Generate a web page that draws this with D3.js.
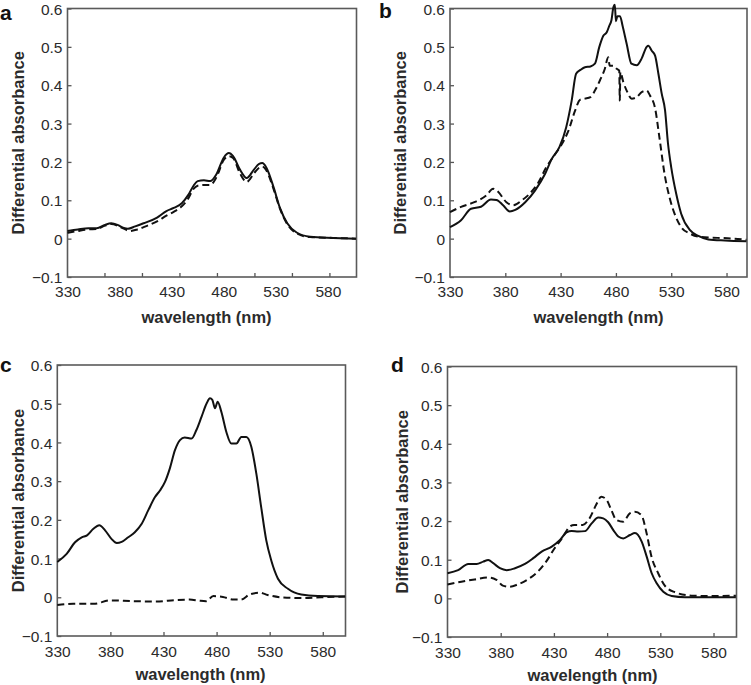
<!DOCTYPE html>
<html>
<head>
<meta charset="utf-8">
<script src="https://cdn.jsdelivr.net/npm/d3@7"></script>
<style>
  html, body { margin: 0; padding: 0; background: #fff; }
  svg { display: block; }
</style>
</head>
<body>
<svg id="chart" width="751" height="685"></svg>
<script>
// ---------------- data (wavelength nm, differential absorbance) ----------------
const xTickLabels = [330, 380, 430, 480, 530, 580];
const yTickLabels = [-0.1, 0, 0.1, 0.2, 0.3, 0.4, 0.5, 0.6];
const panelATickMarks = [365.5, 401.5, 437.5, 473.5, 509.5, 545.5, 581.5];
const standardTickMarks = [380, 430, 480, 530, 580];

const panelASolid = [[330,0.020],[340,0.024],[350,0.027],[358,0.027],[366,0.036],[372,0.040],[378,0.036],[384,0.028],[388,0.026],[395,0.032],[403,0.040],[416,0.055],[425,0.072],[432,0.080],[440,0.093],[446,0.114],[451,0.138],[455,0.150],[461,0.152],[467,0.150],[473,0.168],[480,0.211],[485,0.223],[489,0.215],[496,0.178],[502,0.158],[509,0.180],[514,0.195],[517,0.197],[521,0.185],[528,0.133],[534,0.080],[541,0.040],[550,0.016],[563,0.005],[585,0.002],[607,0.000]];
const panelADashed = [[330,0.015],[340,0.020],[350,0.024],[358,0.025],[366,0.034],[372,0.038],[378,0.034],[384,0.026],[390,0.020],[397,0.024],[405,0.032],[416,0.045],[425,0.060],[432,0.070],[440,0.085],[446,0.105],[451,0.130],[455,0.138],[461,0.140],[467,0.140],[473,0.160],[480,0.205],[485,0.215],[489,0.210],[496,0.168],[502,0.148],[509,0.170],[514,0.185],[517,0.188],[521,0.178],[528,0.128],[534,0.078],[541,0.038],[550,0.014],[563,0.004],[585,0.002],[607,0.000]];

const panelBSolid = [[330,0.030],[340,0.048],[349,0.078],[358,0.083],[367,0.102],[372,0.101],[378,0.087],[384,0.071],[389,0.075],[398,0.095],[407,0.126],[416,0.169],[422,0.208],[429,0.239],[435,0.290],[440,0.360],[444,0.430],[448,0.440],[452,0.447],[457,0.449],[461,0.456],[465,0.500],[468.6,0.529],[471.7,0.538],[474,0.555],[476,0.570],[477.7,0.603],[479,0.610],[480,0.567],[481.3,0.580],[483.7,0.580],[486,0.555],[489.7,0.508],[494,0.456],[498.8,0.452],[503.3,0.470],[507.8,0.500],[509.3,0.503],[512.4,0.490],[515.4,0.477],[518.4,0.430],[521.4,0.378],[524.4,0.335],[527,0.250],[530,0.186],[534.5,0.117],[539,0.065],[547,0.022],[554.5,0.007],[563.5,-0.002],[578.6,-0.005],[598,-0.007]];
const panelBDashed = [[330,0.069],[340,0.083],[352,0.095],[363,0.113],[369,0.130],[373.5,0.122],[381,0.095],[387,0.087],[395,0.100],[402,0.117],[410,0.147],[417,0.186],[425,0.220],[431,0.246],[437,0.281],[443,0.333],[447.5,0.362],[452,0.365],[457,0.369],[461,0.386],[465.6,0.413],[470,0.443],[473,0.473],[474.4,0.451],[477.7,0.451],[480.7,0.443],[483,0.438],[483.5,0.360],[484,0.434],[486.7,0.408],[489.7,0.386],[494.3,0.365],[498.8,0.369],[503.3,0.382],[507.8,0.386],[510.8,0.373],[515.4,0.340],[519.5,0.260],[524,0.168],[528.5,0.107],[533,0.065],[539,0.030],[547,0.013],[557.5,0.004],[572,0.002],[587,0.000],[598,-0.003]];

const panelCSolid = [[330,0.091],[338.8,0.112],[346.7,0.142],[353,0.155],[358,0.160],[364,0.177],[369.5,0.186],[375,0.173],[381,0.151],[386,0.140],[390.6,0.143],[396.8,0.155],[403,0.168],[409.5,0.190],[415.7,0.225],[422,0.259],[426.7,0.276],[431.4,0.298],[436,0.333],[440.8,0.380],[445.5,0.406],[450,0.413],[456.5,0.410],[461,0.432],[465.8,0.466],[470.7,0.501],[473.8,0.514],[476,0.510],[478.5,0.488],[481,0.505],[484.5,0.479],[489.2,0.427],[493.9,0.397],[498.6,0.397],[503.3,0.414],[508,0.414],[512.7,0.389],[517.4,0.320],[522,0.233],[526.8,0.147],[531.5,0.095],[537.8,0.048],[547.2,0.022],[559.7,0.007],[575.4,0.003],[601,0.002]];
const panelCDashed = [[330,-0.020],[345,-0.017],[364,-0.017],[380,-0.008],[401,-0.010],[423,-0.011],[442,-0.007],[454.5,-0.006],[464,-0.009],[470,-0.010],[477,0.003],[486,0.001],[496,-0.006],[503,-0.006],[511,0.007],[520.5,0.012],[528,0.006],[540.6,0.000],[559.7,-0.002],[578.5,0.000],[601,0.002]];

const panelDSolid = [[330,0.065],[340,0.073],[349.5,0.089],[357.4,0.089],[363.6,0.095],[368.3,0.099],[373,0.091],[379.3,0.078],[385.6,0.073],[393.4,0.078],[402.8,0.089],[410.6,0.104],[418.5,0.121],[428,0.134],[435.7,0.151],[442,0.171],[446.7,0.174],[452.9,0.173],[459.2,0.174],[465.5,0.194],[471.7,0.209],[476.4,0.207],[481,0.197],[486,0.176],[490.5,0.160],[495.2,0.155],[501.5,0.164],[506.2,0.169],[512.5,0.147],[517.2,0.108],[521.9,0.065],[526.6,0.039],[532.8,0.017],[540.7,0.006],[553.2,0.003],[575,0.003],[601,0.003]];
const panelDDashed = [[330,0.036],[343,0.043],[355.5,0.049],[368.3,0.054],[376,0.048],[382,0.033],[388.3,0.030],[396,0.036],[405.5,0.049],[414.8,0.069],[422.7,0.095],[430.5,0.129],[438.3,0.158],[444.6,0.185],[449,0.190],[457,0.190],[463.5,0.207],[469.7,0.242],[474.4,0.263],[479.2,0.256],[483.9,0.229],[488.6,0.203],[495,0.198],[501.3,0.220],[506,0.224],[512.3,0.215],[517,0.170],[521.7,0.108],[528,0.065],[534.2,0.033],[543.6,0.016],[559.3,0.007],[575,0.006],[601,0.007]];

// ---------------- layout ----------------
const panels = [
  { letter: "a", box: [67.5, 8.5, 356.5, 277], xMax: 607.5, ticks: panelATickMarks, solid: panelASolid, dashed: panelADashed,
    letterPos: [0, 20], yTitleX: 18, xTitleX: 206.5, labelOff: 20, titleOff: 46 },
  { letter: "b", box: [450, 8.5, 747, 277], xMax: 598.5, ticks: standardTickMarks, solid: panelBSolid, dashed: panelBDashed,
    letterPos: [379, 18], yTitleX: 400, xTitleX: 598.5, labelOff: 20, titleOff: 46 },
  { letter: "c", box: [57.3, 365, 345.5, 636], xMax: 601.4, ticks: standardTickMarks, solid: panelCSolid, dashed: panelCDashed,
    letterPos: [0, 372], yTitleX: 18, xTitleX: 200.5, labelOff: 20.5, titleOff: 44 },
  { letter: "d", box: [447.5, 366.5, 736.5, 637], xMax: 601.6, ticks: standardTickMarks, solid: panelDSolid, dashed: panelDDashed,
    letterPos: [391, 372], yTitleX: 402, xTitleX: 592.5, labelOff: 20.5, titleOff: 43.5 }
];

const svg = d3.select("#chart");
const font = "'Liberation Sans', Arial, Helvetica, sans-serif";
const textColor = "#2b2b2b";

panels.forEach(p => {
  const [x0, y0, x1, y1] = p.box;
  const x = d3.scaleLinear().domain([330, p.xMax]).range([x0, x1]);
  const y = d3.scaleLinear().domain([-0.1, 0.6]).range([y1, y0]);
  const g = svg.append("g");

  // inward tick marks (bottom)
  g.append("g")
    .attr("transform", `translate(0,${y1})`)
    .call(d3.axisBottom(x).tickValues(p.ticks).tickSizeInner(-4).tickSizeOuter(0).tickFormat(""))
    .call(a => a.select(".domain").remove())
    .call(a => a.selectAll("line").attr("stroke", "#555").attr("stroke-width", 1.3));

  // inward tick marks (left)
  g.append("g")
    .attr("transform", `translate(${x0},0)`)
    .call(d3.axisLeft(y).tickValues(yTickLabels).tickSizeInner(-4).tickSizeOuter(0).tickFormat(""))
    .call(a => a.select(".domain").remove())
    .call(a => a.selectAll("line").attr("stroke", "#555").attr("stroke-width", 1.3));

  // x tick labels
  g.append("g")
    .attr("transform", `translate(0,${y1 + p.labelOff})`)
    .call(d3.axisBottom(x).tickValues(xTickLabels).tickSize(0).tickPadding(0).tickFormat(d3.format("d")))
    .call(a => a.select(".domain").remove())
    .call(a => a.selectAll("text")
      .attr("dy", 0).attr("y", 0)
      .attr("font-family", font).attr("font-size", 15.5).attr("fill", textColor));

  // y tick labels
  g.append("g")
    .attr("transform", `translate(${x0 - 5},0)`)
    .call(d3.axisLeft(y).tickValues(yTickLabels).tickSize(0).tickPadding(0).tickFormat(d => d === 0 ? "0" : d3.format(".1f")(d)))
    .call(a => a.select(".domain").remove())
    .call(a => a.selectAll("text")
      .attr("dy", "0.36em")
      .attr("font-family", font).attr("font-size", 15.5).attr("fill", textColor));

  // frame
  g.append("rect")
    .attr("x", x0).attr("y", y0).attr("width", x1 - x0).attr("height", y1 - y0)
    .attr("fill", "none").attr("stroke", "#5a5a5a").attr("stroke-width", 1.6);

  const line = d3.line().x(d => x(d[0])).y(d => y(d[1])).curve(d3.curveMonotoneX);

  g.append("path").datum(p.dashed)
    .attr("d", line).attr("fill", "none").attr("stroke", "#111")
    .attr("stroke-width", 2).attr("stroke-dasharray", "7,4");

  g.append("path").datum(p.solid)
    .attr("d", line).attr("fill", "none").attr("stroke", "#111")
    .attr("stroke-width", 2);

  // axis titles
  g.append("text")
    .attr("x", p.xTitleX).attr("y", y1 + p.titleOff)
    .attr("text-anchor", "middle")
    .attr("font-family", font).attr("font-weight", "bold").attr("font-size", 16.5).attr("fill", textColor)
    .text("wavelength (nm)");

  g.append("text")
    .attr("transform", `translate(${p.yTitleX},${(y0 + y1) / 2}) rotate(-90)`)
    .attr("text-anchor", "middle").attr("dy", "0.35em")
    .attr("font-family", font).attr("font-weight", "bold").attr("font-size", 16.5).attr("fill", textColor)
    .text("Differential absorbance");

  // panel letter
  g.append("text")
    .attr("x", p.letterPos[0]).attr("y", p.letterPos[1])
    .attr("font-family", font).attr("font-weight", "bold").attr("font-size", 21).attr("fill", "#111")
    .text(p.letter);
});
</script>
</body>
</html>
